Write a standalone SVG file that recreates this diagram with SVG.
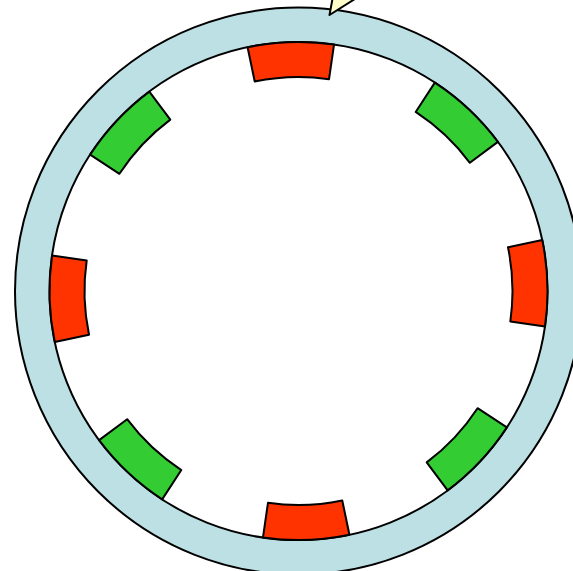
<svg xmlns="http://www.w3.org/2000/svg" xmlns:xlink="http://www.w3.org/1999/xlink" width="573" height="571" viewBox="0 0 573 571">
<style>
.ln{stroke:#000;stroke-width:2;stroke-linejoin:round}
.red{fill:#FF3300}
.grn{fill:#33CC33}
.ring{fill:#BCE0E4;fill-rule:evenodd}
</style>
<defs>
<path id="mag" d="M -43.24 -245.22 A 249 249 0 0 1 43.24 -245.22 L 37.16 -210.75 A 214 214 0 0 0 -37.16 -210.75 Z"/>
</defs>
<rect width="573" height="571" fill="#fff"/>
<g id="stator">
<path class="ring ln" d="M 15 291 A 283.5 283.5 0 1 1 582 291 A 283.5 283.5 0 1 1 15 291 Z M 49.5 291 A 249 249 0 1 0 547.5 291 A 249 249 0 1 0 49.5 291 Z"/>
</g>
<g id="pointer">
<polygon class="ln" fill="#FFFFCC" points="329.5,15 336,-20 385,-20"/>
</g>
<g transform="translate(298.5,291) rotate(-1.8)">
<g id="magnet-n"><use xlink:href="#mag" class="red ln"/></g>
<g id="magnet-ne"><use xlink:href="#mag" class="grn ln" transform="rotate(45)"/></g>
<g id="magnet-e"><use xlink:href="#mag" class="red ln" transform="rotate(90)"/></g>
<g id="magnet-se"><use xlink:href="#mag" class="grn ln" transform="rotate(135)"/></g>
<g id="magnet-s"><use xlink:href="#mag" class="red ln" transform="rotate(180)"/></g>
<g id="magnet-sw"><use xlink:href="#mag" class="grn ln" transform="rotate(225)"/></g>
<g id="magnet-w"><use xlink:href="#mag" class="red ln" transform="rotate(270)"/></g>
<g id="magnet-nw"><use xlink:href="#mag" class="grn ln" transform="rotate(315)"/></g>
</g>
<g id="connectors"></g>
</svg>
